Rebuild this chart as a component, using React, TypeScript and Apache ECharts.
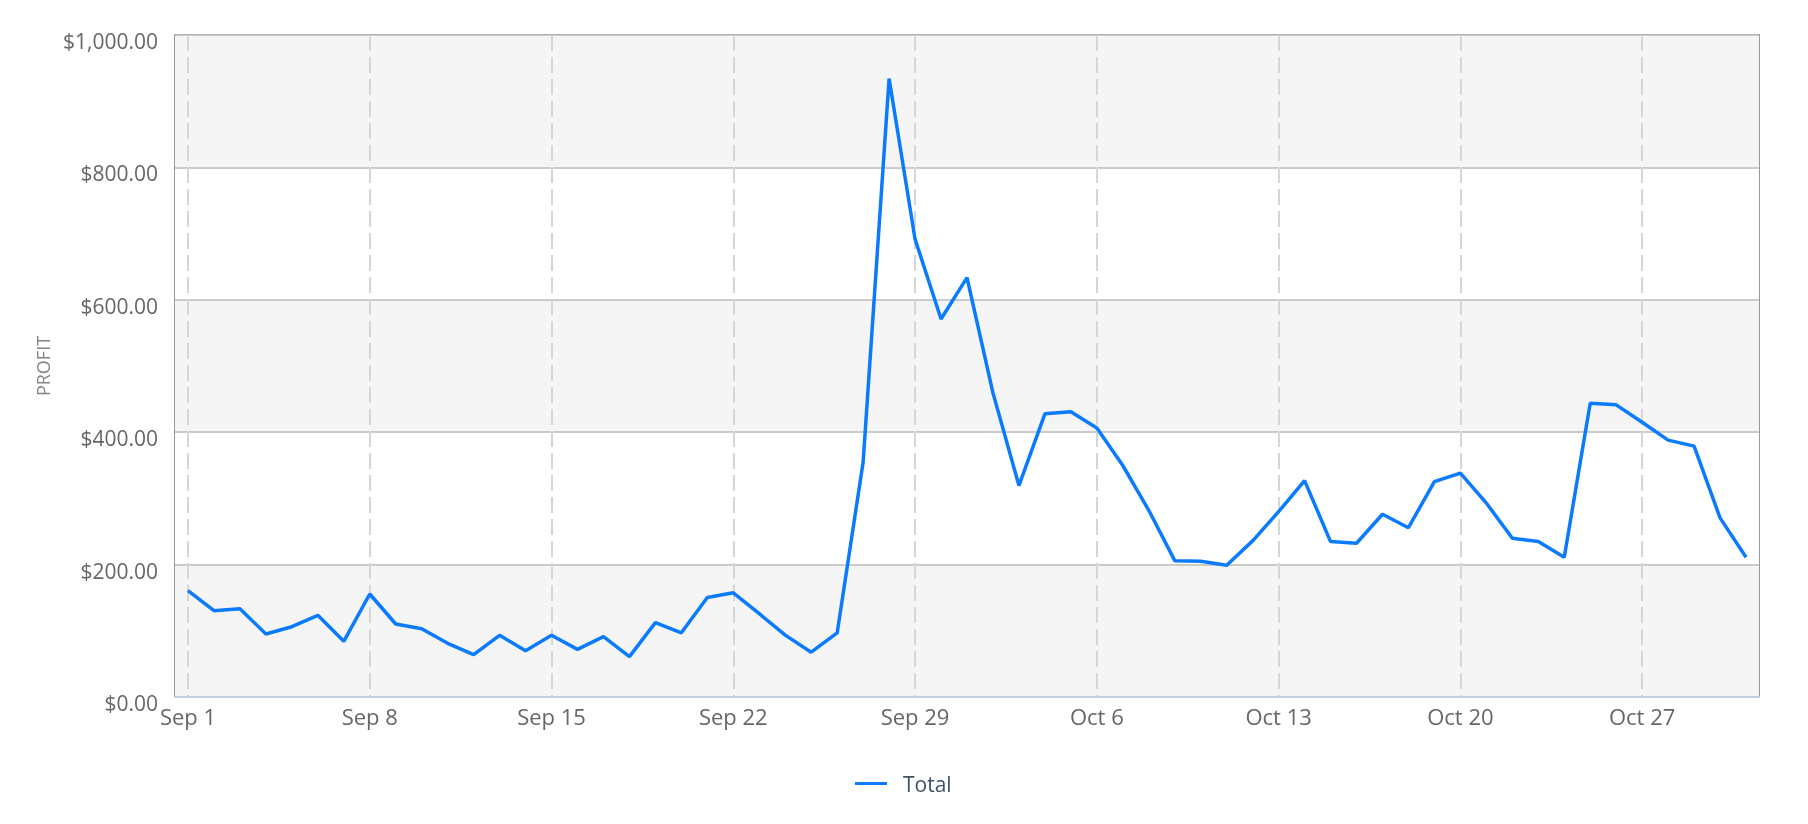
import { useEffect, useRef } from 'react'
import * as echarts from 'echarts'

// Sep 1 .. Oct 31, one point per day
const septDays = Array.from({ length: 30 }, (_, i) => `Sep ${i + 1}`)
const octDays = Array.from({ length: 31 }, (_, i) => `Oct ${i + 1}`)
const days = [...septDays, ...octDays]

const totalProfit = [
  160.6, 130.4, 133.4, 95.2, 106.2, 123.4, 84.1,
  155.6, 110.3, 103.2, 81.1, 63.9, 93.2, 70.0,
  93.2, 72.0, 91.1, 60.9, 112.3, 97.0, 150.3,
  157.4, 125.8, 93.5, 67.7, 96.8, 354.8, 934.2,
  691.6, 571.0, 633.5, 459.4, 319.4, 427.7, 431.0,
  406.5, 349.7, 282.0, 206.0, 205.0, 199.0, 235.8,
  280.0, 326.9, 234.8, 232.3, 276.1, 255.7, 325.4,
  338.3, 293.0, 239.8, 234.8, 211.0, 443.8, 441.3,
  415.0, 388.0, 379.0, 270.6, 211.0,
]

const yTicks = [0, 200, 400, 600, 800, 1000]

const money = (v: number) =>
  '$' + v.toLocaleString('en-US', { minimumFractionDigits: 2, maximumFractionDigits: 2 })

export default function App() {
  const ref = useRef<HTMLDivElement>(null)

  useEffect(() => {
    if (!ref.current) return
    const chart = echarts.init(ref.current, null, { renderer: 'svg' })

    chart.setOption({
      animation: false,
      textStyle: { fontFamily: 'Open Sans' },
      grid: {
        left: 175,
        right: 49,
        top: 35,
        bottom: 127,
        show: true,
        borderColor: '#999999',
        borderWidth: 2,
        backgroundColor: 'transparent',
      },
      legend: {
        left: 850,
        top: 768,
        itemWidth: 32,
        itemHeight: 16,
        icon: 'path://M0,7 L32,7 L32,10 L0,10 Z',
        textStyle: {
          color: '#3f5266',
          fontSize: 21,
          fontFamily: 'Open Sans',
          padding: [0, 0, 0, 11],
        },
        data: ['Total'],
      },
      xAxis: {
        type: 'category',
        data: days,
        boundaryGap: true,
        offset: 2,
        axisLine: { lineStyle: { color: '#c0d0e0', width: 2 } },
        axisTick: { show: false },
        axisLabel: {
          interval: 6,
          color: '#666666',
          fontSize: 22,
          margin: 6,
        },
        splitLine: {
          show: true,
          interval: 6,
          alignWithLabel: true,
          lineStyle: { color: '#d6d6d6', width: 2, type: [16, 6] },
        },
      },
      yAxis: {
        type: 'value',
        min: yTicks[0],
        max: yTicks[yTicks.length - 1],
        interval: 200,
        name: 'PROFIT',
        nameLocation: 'middle',
        nameGap: 121,
        nameRotate: 90,
        nameTextStyle: { color: '#858585', fontSize: 18, fontFamily: 'Open Sans' },
        axisLine: { show: false },
        axisTick: { show: false },
        axisLabel: {
          color: '#666666',
          fontSize: 21,
          margin: 17,
          verticalAlign: 'top',
          lineHeight: 12,
          formatter: money,
        },
        splitLine: { lineStyle: { color: '#bbbbbb', width: 1.5 } },
        splitArea: { show: true, areaStyle: { color: ['#f5f5f5', '#ffffff'] } },
      },
      series: [
        {
          name: 'Total',
          type: 'line',
          data: totalProfit,
          symbol: 'none',
          color: '#0a7bff',
          lineStyle: { color: '#0a7bff', width: 3.5 },
        },
      ],
    })

    return () => chart.dispose()
  }, [])

  return (
    <div
      ref={ref}
      style={{ position: 'fixed', left: 0, top: 0, width: 1808, height: 824 }}
    />
  )
}
